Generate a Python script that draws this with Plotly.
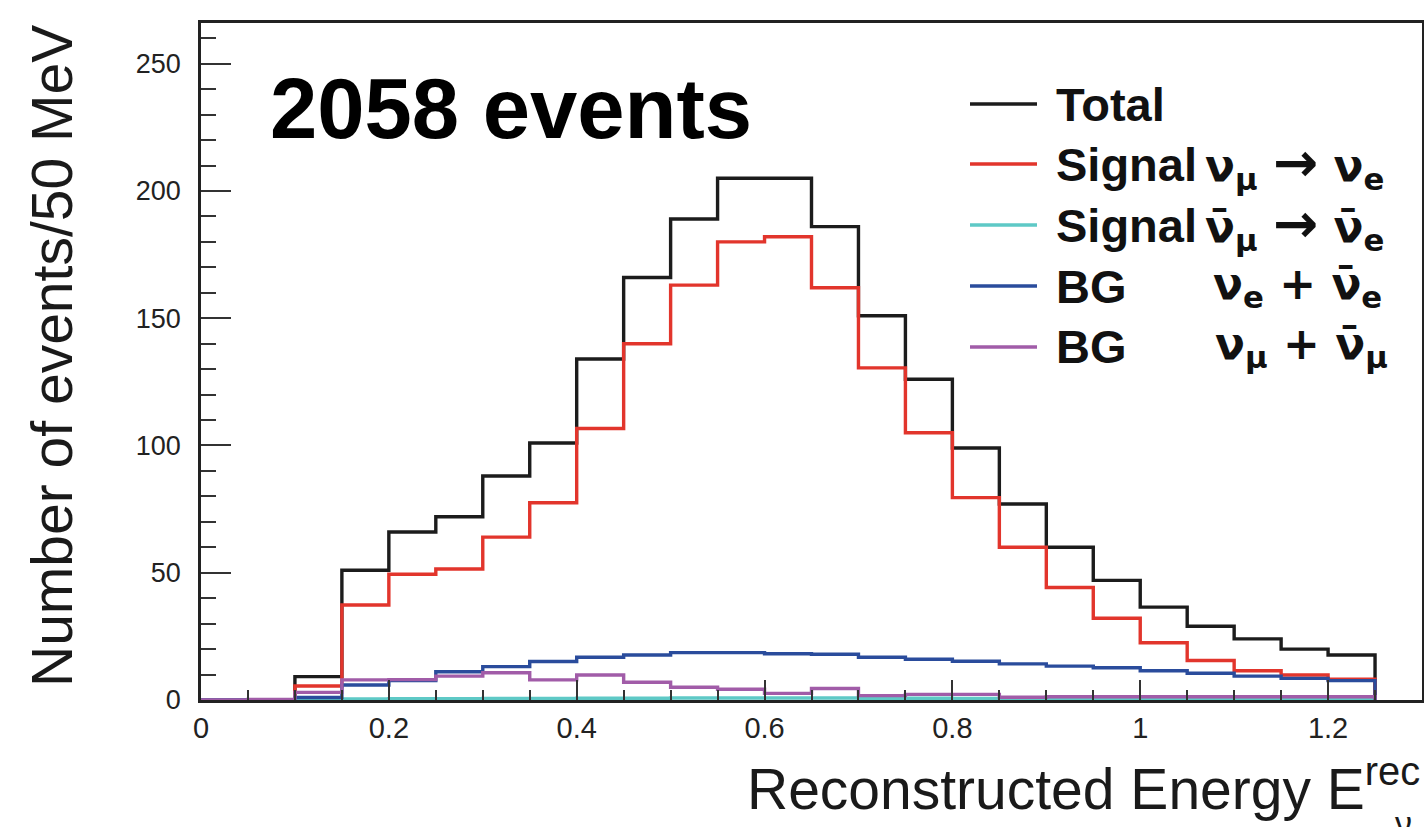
import plotly.graph_objects as go

# ---------------- data (25 bins of 50 MeV, 0 .. 1.25 GeV) ----------------
bin_width = 0.05
n_bins = 25
bin_edges = [round(i * bin_width, 2) for i in range(n_bins + 1)]

total = [0, 0, 9.2, 51, 66, 72, 88, 101, 134, 166, 189, 205, 205, 186, 151,
         126, 99, 77, 60, 47, 36.5, 29, 24, 20, 17.7]
signal_numu_nue = [0, 0, 5.5, 37.3, 49.4, 51.5, 64, 77.5, 106.7, 140, 163, 180,
                   182, 162, 130.5, 105, 79.5, 60, 44.2, 32.1, 22.5, 15.5, 11.5, 9.8, 8.2]
signal_anti = [0, 0, 0.2, 0.4, 0.5, 0.5, 0.6, 0.6, 0.7, 0.7, 0.8, 0.8, 0.8, 0.8,
               0.7, 0.7, 0.6, 0.6, 0.5, 0.5, 0.4, 0.4, 0.3, 0.3, 0.3]
bg_nue = [0, 0, 1.0, 5.9, 7.6, 11.1, 13.1, 15.1, 16.8, 17.7, 18.6, 18.6, 18.2,
          18.0, 16.8, 16.0, 15.2, 14.2, 13.3, 12.7, 11.5, 10.5, 9.4, 8.5, 7.6]
bg_numu = [0, 0.2, 3.0, 7.9, 8.0, 9.4, 10.7, 7.9, 9.8, 7.0, 5.0, 4.2, 2.6, 4.5,
           1.7, 2.2, 2.2, 1.1, 1.3, 1.3, 1.3, 1.3, 1.3, 1.3, 1.3]

series_names = ["Total", "Signal νμ→νe", "Signal anti-νμ→anti-νe", "BG νe+anti-νe", "BG νμ+anti-νμ"]
series_values = [total, signal_numu_nue, signal_anti, bg_nue, bg_numu]
series_colors = ["#1c1c1c", "#e2352c", "#5ec9c6", "#2a4c9c", "#a15ca8"]
legend_bold = ["Total", "Signal", "Signal", "BG", "BG"]

NU = "ν"
NUBAR = "ν\u0304"
ARROW = '<span style="font-size:54px">→</span>'
legend_greek = [
    "",
    f"{NU}<sub>μ</sub> {ARROW} {NU}<sub>e</sub>",
    f"{NUBAR}<sub>μ</sub> {ARROW} {NUBAR}<sub>e</sub>",
    f"{NU}<sub>e</sub> + {NUBAR}<sub>e</sub>",
    f"{NU}<sub>μ</sub> + {NUBAR}<sub>μ</sub>",
]

x_ticks = [0, 0.2, 0.4, 0.6, 0.8, 1.0, 1.2]
x_tick_labels = ["0", "0.2", "0.4", "0.6", "0.8", "1", "1.2"]
y_ticks = [0, 50, 100, 150, 200, 250]
y_tick_labels = ["0", "50", "100", "150", "200", "250"]

FONT = "Liberation Sans, Arial, Helvetica, sans-serif"
GREEK_FONT = "DejaVu Sans, Liberation Sans, sans-serif"

# plot-area geometry in pixels
W, H = 1424, 827
PL, PR, PT, PB = 201, 1422, 23, 700


def px_x(x):
    return (x - PL) / (PR - PL)


def px_y(y):
    return (PB - y) / (PB - PT)


fig = go.Figure()

for name, vals, col in zip(series_names, series_values, series_colors):
    xs = list(bin_edges[:-1]) + [bin_edges[-1], bin_edges[-1]]
    ys = list(vals) + [vals[-1], 0]
    fig.add_trace(go.Scatter(
        x=xs, y=ys, mode="lines", name=name,
        line=dict(color=col, width=3.4, shape="hv"),
        showlegend=False, hoverinfo="skip",
    ))

# manual ROOT-style legend
row_y = [104, 164, 225, 286, 347]
greek_x = [1205, 1203, 1203, 1211, 1213]
for i, (bold, greek, col) in enumerate(zip(legend_bold, legend_greek, series_colors)):
    yy = px_y(row_y[i])
    fig.add_shape(type="line", xref="paper", yref="paper",
                  x0=px_x(970), x1=px_x(1037), y0=yy, y1=yy,
                  line=dict(color=col, width=3.4))
    fig.add_annotation(xref="paper", yref="paper", x=px_x(1054), y=yy,
                       xanchor="left", yanchor="middle", showarrow=False,
                       text=f"<b>{bold}</b>",
                       font=dict(family=FONT, size=47, color="#111"))
    if greek:
        fig.add_annotation(xref="paper", yref="paper", x=px_x(greek_x[i]), y=yy,
                           xanchor="left", yanchor="middle", showarrow=False,
                           text=f"<b>{greek}</b>",
                           font=dict(family=GREEK_FONT, size=44, color="#111"))

# "2058 events"
fig.add_annotation(xref="paper", yref="paper", x=px_x(268), y=px_y(108),
                   xanchor="left", yanchor="middle", showarrow=False,
                   text="<b>2058 events</b>",
                   font=dict(family=FONT, size=85, color="#000"))

# axis titles (ROOT style: aligned to the axis ends)
fig.add_annotation(xref="paper", yref="paper", x=px_x(52), y=1.0,
                   xanchor="center", yanchor="top", textangle=-90, showarrow=False,
                   text="Number of events/50 MeV",
                   font=dict(family=FONT, size=57, color="#1a1a1a"))
fig.add_annotation(xref="paper", yref="paper", x=1.0, y=px_y(785),
                   xanchor="right", yanchor="middle", showarrow=False,
                   text="Reconstructed Energy E<sup>rec</sup>",
                   font=dict(family=FONT, size=57, color="#1a1a1a"))
fig.add_annotation(xref="paper", yref="paper", x=px_x(1403), y=px_y(823),
                   xanchor="center", yanchor="middle", showarrow=False,
                   text="ν", font=dict(family=FONT, size=34, color="#1a1a1a"))

axis_common = dict(
    showline=True, linecolor="#222", linewidth=2.5, mirror=True,
    showgrid=False, zeroline=False, ticks="inside", tickcolor="#333",
    tickwidth=2,
)

fig.update_xaxes(range=[0, 1.3], tickvals=x_ticks, ticktext=x_tick_labels,
                 ticklen=20, tickfont=dict(family=FONT, size=29, color="#222"),
                 minor=dict(dtick=0.05, ticks="inside", ticklen=10,
                            tickcolor="#333", tickwidth=2),
                 **axis_common)
fig.update_yaxes(range=[0, 266], tickvals=y_ticks, ticktext=y_tick_labels,
                 ticklen=30, ticklabelstandoff=12,
                 tickfont=dict(family=FONT, size=27, color="#222"),
                 minor=dict(dtick=10, ticks="inside", ticklen=15,
                            tickcolor="#333", tickwidth=2),
                 **axis_common)

fig.update_layout(
    width=W, height=H,
    margin=dict(l=PL, r=W - PR, t=PT, b=H - PB, autoexpand=False),
    plot_bgcolor="white", paper_bgcolor="white",
    font=dict(family=FONT),
)

fig.write_html("out.html")
